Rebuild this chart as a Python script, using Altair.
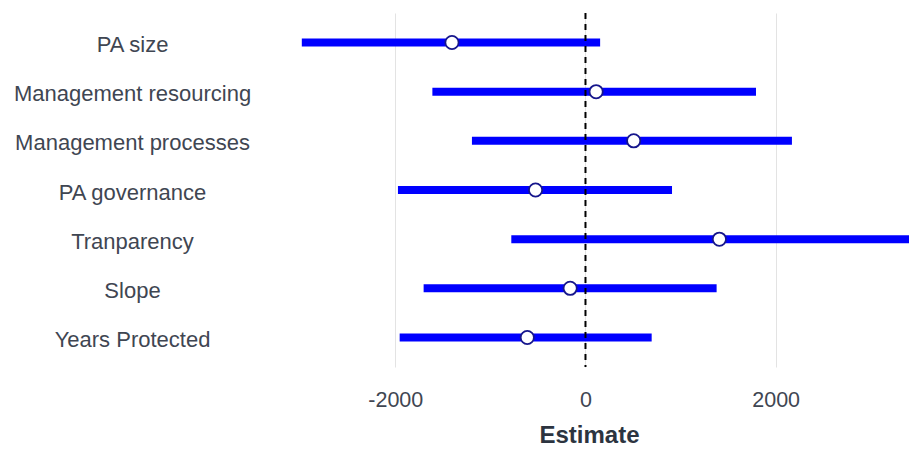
import altair as alt
import pandas as pd

variables = ["PA size", "Management resourcing", "Management processes",
             "PA governance", "Tranparency", "Slope", "Years Protected"]
estimates = [-1404, 112, 507, -525, 1408, -161, -612]
lower = [-2983, -1610, -1194, -1972, -780, -1702, -1954]
upper = [154, 1793, 2171, 910, 3600, 1379, 696]
x_ticks = [-2000, 0, 2000]
x_domain = [-3328, 3402]

df = pd.DataFrame({"variable": variables, "estimate": estimates,
                   "lower": lower, "upper": upper})
zero_df = pd.DataFrame({"x": [0]})

FONT = "Liberation Sans"
LABEL_COLOR = "#3f4652"
xscale = alt.Scale(domain=x_domain, nice=False, zero=False)
yscale = alt.Scale(type="point", padding=0.6, domain=variables)

base = alt.Chart(df)

bars = base.mark_rule(color="#0000ff", strokeWidth=8, clip=True).encode(
    x=alt.X("lower:Q", scale=xscale,
            axis=alt.Axis(title="Estimate", values=x_ticks, grid=True,
                          gridColor="#e3e3e3", gridWidth=1, domain=False,
                          ticks=False, labelFont=FONT, labelFontSize=21.5,
                          labelColor=LABEL_COLOR, labelPadding=22,
                          labelExpr="'' + datum.value",
                          titleFont=FONT, titleFontSize=24,
                          titleFontWeight="bold", titleColor="#2c3440",
                          titlePadding=13)),
    x2="upper:Q",
    y=alt.Y("variable:N", scale=yscale, sort=variables,
            axis=alt.Axis(title=None, grid=False, domain=False, ticks=False,
                          labelFont=FONT, labelFontSize=22,
                          labelColor=LABEL_COLOR, labelAlign="center",
                          labelPadding=137, labelLimit=400, labelOffset=2)),
)

zero = alt.Chart(zero_df).mark_rule(color="black", strokeDash=[6, 5],
                                     strokeWidth=2).encode(
    x=alt.X("x:Q", scale=xscale)
)

points = base.mark_point(shape="circle", filled=True, fill="white",
                         stroke="#16168c", strokeWidth=1.8, size=175,
                         opacity=1).encode(
    x=alt.X("estimate:Q", scale=xscale),
    y=alt.Y("variable:N", scale=yscale, sort=variables),
)

chart = alt.layer(bars, zero, points).properties(
    width=640, height=354,
    padding={"left": 5, "top": 4, "right": 0, "bottom": 0},
).configure(
    background="white",
    view=alt.ViewConfig(stroke=None),
    axis=alt.AxisConfig(domain=False, ticks=False),
)

chart.save("out.html", embed_options={"renderer": "svg", "actions": False})
